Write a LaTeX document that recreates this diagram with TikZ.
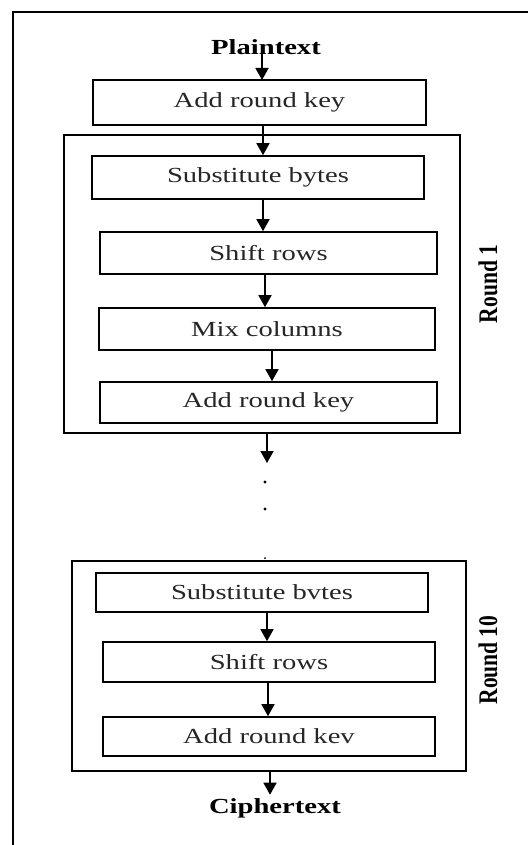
\documentclass[tikz,border=0pt]{standalone}
\usepackage{fontspec}
\setmainfont{Liberation Serif}[FakeStretch=1.33]
\newfontfamily\upfont{Liberation Serif}
\usetikzlibrary{arrows.meta}

\begin{document}
\begin{tikzpicture}[x=1pt,y=-1pt,
        box/.style={draw, line width=1.6pt, inner sep=0pt, text=black!85,
            font=\fontsize{21.5}{24}\selectfont},
        frame/.style={draw, line width=1.6pt, inner sep=0pt},
        title/.style={font=\fontsize{21.5}{24}\selectfont\bfseries},
        side/.style={rotate=90, font=\upfont\fontsize{21.5}{24}\selectfont\bfseries},
        arr/.style={-{Triangle[width=13pt,length=12pt]}, line width=1.6pt}]
        \useasboundingbox (0,0) rectangle (528,845);
        \fill[white] (0,0) rectangle (528,845);
        \draw[line width=1.6pt] (13,845) -- (13,12) -- (528,12);

        % first key
        \node[title] (pt) at (266,47) {Plaintext};
        \node[box, minimum width=333pt, minimum height=45pt] (ark0) at (259.5,102.5) {Add round key};

        % round 1
        \node[frame, minimum width=396pt, minimum height=298pt] (r1) at (262,284) {};
        \node[box, minimum width=332pt, minimum height=43pt] (sb1) at (258,177.5) {Substitute bytes};
        \node[box, minimum width=337pt, minimum height=42pt] (sr1) at (268.5,253) {Shift rows};
        \node[box, minimum width=336pt, minimum height=42pt] (mc1) at (267,329) {Mix columns};
        \node[box, minimum width=337pt, minimum height=41pt] (ark1) at (268.5,402.5) {Add round key};
        \node[side] (l1) at (488,284) {\scalebox{1}[1.25]{Round 1}};

        % dots
        \coordinate (c1) at (267,463);
        \fill (265,482) circle (1.6pt);
        \fill (265,509) circle (1.6pt);
        \fill (265,558) circle (1pt);

        % round 10
        \node[frame, minimum width=394pt, minimum height=210pt] (r10) at (269,666) {};
        \node[box, minimum width=332pt, minimum height=39pt] (sb10) at (262,592.5) {Substitute bvtes};
        \node[box, minimum width=332pt, minimum height=40pt] (sr10) at (269,662) {Shift rows};
        \node[box, minimum width=332pt, minimum height=39pt] (ark10) at (269,736.5) {Add round kev};
        \node[side] (l10) at (488,660) {\scalebox{1}[1.25]{Round 10}};
        \node[title] (ct) at (275,808) {Ciphertext};

        \draw[arr] (pt.base -| 262,0) -- (262,80);
        \draw[arr] (ark0.south -| 263,0) -- (sb1.north -| 263,0);
        \draw[arr] (sb1.south -| 263,0) -- (sr1.north -| 263,0);
        \draw[arr] (sr1.south -| 265,0) -- (mc1.north -| 265,0);
        \draw[arr] (mc1.south -| 272,0) -- (ark1.north -| 272,0);
        \draw[arr] (r1.south -| c1) -- (c1);
        \draw[arr] (sb10.south -| 267,0) -- (sr10.north -| 267,0);
        \draw[arr] (sr10.south -| 268,0) -- (ark10.north -| 268,0);
        \draw[arr] (r10.south -| 270,0) -- (ct.north -| 270,0);
    \end{tikzpicture}
\end{document}
